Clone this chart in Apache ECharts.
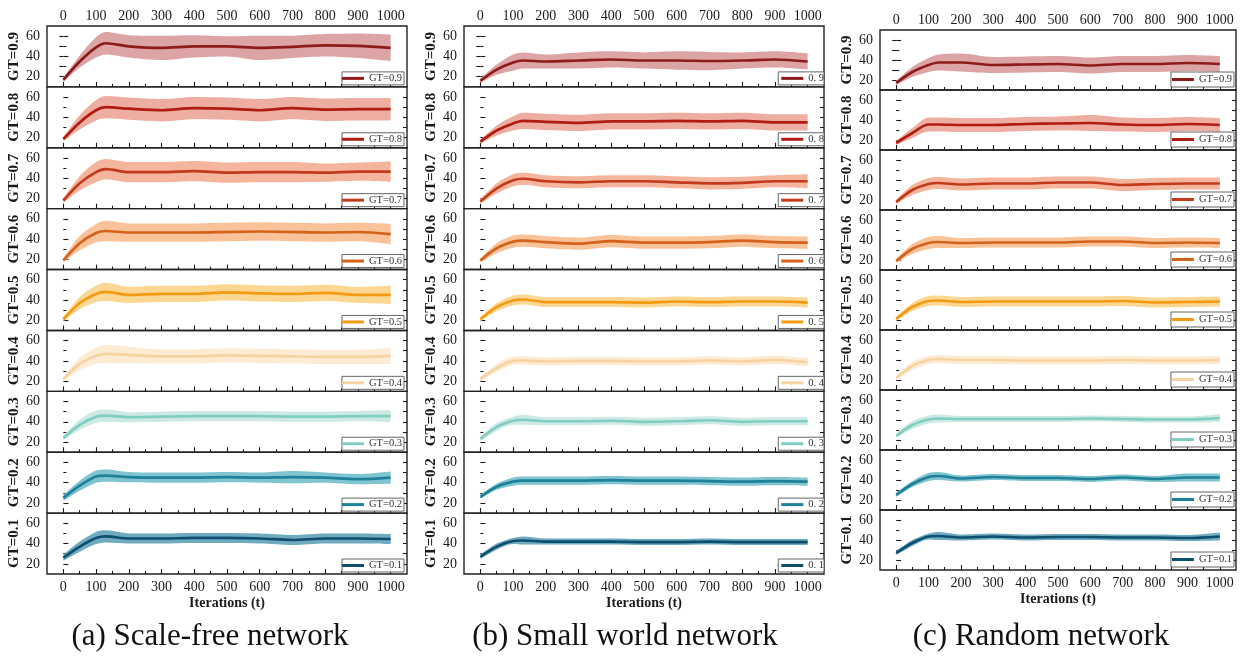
<!DOCTYPE html>
<html><head><meta charset="utf-8">
<script src="https://cdn.jsdelivr.net/npm/echarts@6/dist/echarts.min.js"></script>
<style>html,body{margin:0;padding:0;background:#fff}#c{width:1242px;height:656px}</style>
</head><body><div id="c"></div>
<script>
// ---------- data ----------
const X = [0, 50, 100, 130, 200, 300, 400, 500, 600, 700, 800, 900, 1000];
const GT_NAMES = ['GT=0.9','GT=0.8','GT=0.7','GT=0.6','GT=0.5','GT=0.4','GT=0.3','GT=0.2','GT=0.1'];
const LEGEND_B = ['0. 9','0. 8','0. 7','0. 6','0. 5','0. 4','0. 3','0. 2','0. 1'];
const X_MAJOR = [0,100,200,300,400,500,600,700,800,900,1000];
const X_MINOR = [50,150,250,350,450,550,650,750,850,950];
const Y_MAJOR = [20,40,60];
const Y_MINOR = [30,50];
const Y_RIGHT = [20,30,40,50,60];
const CAPTIONS = ['(a) Scale-free network','(b) Small world network','(c) Random network'];
const X_TITLE = 'Iterations (t)';

// (a) Scale-free network: mean and half-width of band, rows GT=0.9 ... GT=0.1
const A_MEAN = [
  [17,35,49,53,50,48.5,50,50,48.5,49.5,51,50.5,48.5],
  [18.5,35,47,50,48.5,47,49,48.5,47,49,47.5,48,48],
  [18,35,46,49,46,46,47,45.5,46,46,45.5,46.5,46.5],
  [19,36,46,48,46.5,46.5,46.5,47,47.5,47,46.5,47,45],
  [21,37,46,48,45,46,46,47.5,46.5,46,47,45,45],
  [22,37,45,47,46,44.5,44.5,45.5,45,44.5,44,44,45],
  [24,37,45,46,44.5,45,45.5,45.5,45.5,45,45,45.5,45.5],
  [25,37,46,47,45.5,45,45,45.5,45,45.5,45,43.5,45],
  [26,37,45.5,47,45,45,45.5,45.5,45,43.5,45,45,44.5]
];
const A_HALF = [
  [2,6,10,11,11,12,11,10,12,11,11,12,13],
  [2,7,10,11,11,11,11,11,11,11,11,11,11],
  [2,7,10,10,10,10,10,10,10,10,9,9,10],
  [2,7,9,10,9,9,9,9,9,9,9,9,10],
  [2,6,8,9,8,8,8,8,8,8,8,8,9],
  [2,6,8,9,8,7,7,7,7,7,7,7,8],
  [2,5,6,6,5,5,5,5,5,5,5,5,6],
  [3,5,6,6,5,5,5,5,5,6,5,5,6],
  [3,5,6,6,5,5,5,5,5,5,5,5,5]
];
// (b) Small world network
const B_MEAN = [
  [16,27,34,36,35,36,37,36,36,35.5,36,37,35],
  [16,27,34,36.5,35.5,34.5,36,36,36.5,36,36.5,35,35],
  [17,30,38,39.5,37,36,37,37,36,35,35.5,37,37],
  [19,31,37.5,38.5,37,35.5,38,36.5,36.5,37,38.5,37,36.5],
  [21,33,39.5,40.5,38,38,38,37.5,38.5,38,38.5,38.5,37.5],
  [22,33,40,40.5,39.5,40,40,39.5,39.5,40.5,39.5,41,38.5],
  [23,35,41,42,40.5,40.5,41,40,40.5,41.5,40,40.5,40.5],
  [26,36,41,42,42,42,42.5,42,42,41.5,41,41.5,41],
  [27,37,42.5,43,42,42,42,41.5,41.5,42,41.5,41.5,41.5]
];
const B_HALF = [
  [2,5,8,8,7,8,8,8,9,9,8,8,8],
  [2,5,7,8,8,8,8,8,8,8,8,8,8],
  [2,5,6,6,6,6,6,6,6,6,6,6,7],
  [2,5,6,6,6,6,6,6,6,6,6,6,6],
  [2,4,5,5,5,5,5,5,5,5,5,5,5],
  [2,4,4,4,4,4,4,4,4,4,4,4,4],
  [2,4,4,5,4,4,4,4,4,4,4,4,4],
  [2,3,4,4,4,4,4,4,4,4,4,4,4],
  [2,3,3,4,3,3,3,3,3,3,3,3,3]
];
// (c) Random network
const C_MEAN = [
  [17,28,35,37.5,37.5,35,35.5,36,34.5,36,36,37,36],
  [17,27,35.5,35.5,35,35,36,36.5,37,35.5,35,36,35],
  [18,30,36,37,35.5,36.5,36.5,37.5,37.5,35,36,36.5,36.5],
  [19,31,37,38,37,37.5,37.5,37.5,38.5,38.5,37,37.5,37],
  [21,33,39,39.5,38,38.5,38.5,38.5,38.5,39,37.5,38,38.5],
  [22,34,40,41,40,40,39.5,39.5,39.5,40,39.5,39.5,40],
  [24,35,40.5,41.5,41,41,41,41,41.5,41,40.5,40.5,42],
  [25,36,43,44,41.5,43,42,42,41,42.5,41,42.5,42.5],
  [27,37,43.5,44,42.5,43.5,42.5,43,43,42.5,42.5,42,43.5]
];
const C_HALF = [
  [2,5,7,8,9,8,8,8,8,8,8,8,8],
  [2,5,7,7,7,7,7,7,8,7,7,7,7],
  [2,5,6,6,6,6,6,6,6,6,6,6,6],
  [2,5,6,6,5,5,5,5,5,5,5,5,5],
  [2,4,5,5,5,5,5,5,5,5,5,5,5],
  [2,4,4,4,4,4,4,4,4,4,4,4,4],
  [2,4,4,4,3,3,3,3,3,3,3,3,4],
  [2,3,4,4,3,3,3,3,3,3,3,4,4],
  [2,3,3,4,3,3,3,3,3,3,3,3,4]
];

// ---------- styles ----------
const LINE_COLORS = ['#8e1b1b','#b01c12','#c23a1b','#d5621b','#f39a12','#f7d3a3','#80cdc1','#1f8099','#0e4f6f'];
const BAND_COLORS = ['#dca4a4','#eeada1','#f5b49c','#f9c298','#fcd693','#fdebd3','#cde9e3','#80c4d1','#70aac0'];
const SERIF = 'Liberation Serif';
const INK = '#1a1a1a';
const W = 1242, H = 656;

const COLS = [
  {key:'a', mean:A_MEAN, half:A_HALF, left:47, width:360, top:26, h:548/9, legend:GT_NAMES, legPad:[1,2,1,0], icon:22, legR:3, legB:2, capX:210},
  {key:'b', mean:B_MEAN, half:B_HALF, left:464, width:360, top:26, h:548/9, legend:LEGEND_B, legPad:[1,0,1,3], icon:22, legR:0, legB:2, capX:625},
  {key:'c', mean:C_MEAN, half:C_HALF, left:880, width:356, top:30, h:60, legend:GT_NAMES, legPad:[2,2,2,1], icon:22, legR:2, legB:3, capX:1041}
];

const grid = [], xAxis = [], yAxis = [], series = [], legend = [], title = [];
const tickLine = {color: INK, width: 1.1};
const plain = v => String(v);

COLS.forEach((col, ci) => {
  title.push({
    text: CAPTIONS[ci], left: col.capX, top: 621, textAlign: 'center', padding: 0,
    textStyle: {fontFamily: SERIF, fontSize: 31, fontWeight: 'normal', color: '#111'}
  });
  for (let r = 0; r < 9; r++) {
    const top = col.top + r * col.h;
    const gMain = grid.length;
    grid.push({left: col.left, top: top, width: col.width, height: col.h, show: true,
      borderColor: '#222', borderWidth: 1.4, backgroundColor: 'transparent', containLabel: false});
    const gOver = grid.length;
    grid.push({left: col.left, top: top, width: col.width, height: col.h, show: false, containLabel: false});

    const last = r === 8;
    const xMain = xAxis.length;
    xAxis.push({
      gridIndex: gMain, type: 'value', min: -50, max: 1050, position: 'bottom',
      axisLine: {show: false}, splitLine: {show: false},
      axisTick: {show: true, inside: true, length: 5, customValues: X_MAJOR, lineStyle: tickLine},
      axisLabel: {show: last, customValues: X_MAJOR, formatter: plain, margin: last ? 6 : 0, fontFamily: SERIF, fontSize: 14, color: INK},
      name: last ? X_TITLE : '', nameLocation: 'middle', nameGap: 22,
      nameTextStyle: {fontFamily: SERIF, fontSize: 14, fontWeight: 'bold', color: INK}
    });
    if (r === 0) {
      xAxis.push({
        gridIndex: gMain, type: 'value', min: -50, max: 1050, position: 'top',
        axisLine: {show: false}, splitLine: {show: false}, axisTick: {show: false},
        axisLabel: {show: true, customValues: X_MAJOR, formatter: plain, margin: 3, fontFamily: SERIF, fontSize: 14, color: INK}
      });
    }
    xAxis.push({
      gridIndex: gOver, type: 'value', min: -50, max: 1050, position: 'bottom',
      axisLine: {show: false}, splitLine: {show: false},
      axisTick: {show: true, inside: true, length: 3, customValues: X_MINOR, lineStyle: tickLine},
      axisLabel: {show: false}
    });

    const yMain = yAxis.length;
    yAxis.push({
      gridIndex: gMain, type: 'value', min: 10, max: 70, position: 'left',
      axisLine: {show: false}, splitLine: {show: false},
      axisTick: {show: true, inside: true, length: 5, customValues: Y_MAJOR, lineStyle: tickLine},
      axisLabel: {show: true, customValues: Y_MAJOR, margin: 7, fontFamily: SERIF, fontSize: 14, color: INK},
      name: GT_NAMES[r], nameLocation: 'middle', nameGap: 25,
      nameTextStyle: {fontFamily: SERIF, fontSize: 15, fontWeight: 'bold', color: INK}
    });
    yAxis.push({
      gridIndex: gMain, type: 'value', min: 10, max: 70, position: 'right',
      axisLine: {show: false}, splitLine: {show: false},
      axisTick: {show: true, inside: true, length: 4, customValues: Y_RIGHT, lineStyle: tickLine},
      axisLabel: {show: false}
    });
    yAxis.push({
      gridIndex: gOver, type: 'value', min: 10, max: 70, position: 'left',
      axisLine: {show: false}, splitLine: {show: false},
      axisTick: {show: true, inside: true, length: 3, customValues: Y_MINOR, lineStyle: tickLine},
      axisLabel: {show: false}
    });

    const mean = col.mean[r], half = col.half[r];
    const stack = col.key + 'band' + r;
    const common = {type: 'line', xAxisIndex: xMain, yAxisIndex: yMain, symbol: 'none', showSymbol: false,
      smooth: 0.3, silent: true, animation: false};
    // band: values stored as [y, x] so the stacked dimension is y
    series.push(Object.assign({}, common, {
      name: col.key + 'lo' + r, stack: stack, z: 1, encode: {x: 1, y: 0},
      lineStyle: {opacity: 0, width: 0}, data: X.map((x, i) => [mean[i] - half[i], x])
    }));
    series.push(Object.assign({}, common, {
      name: col.key + 'bw' + r, stack: stack, z: 1, encode: {x: 1, y: 0},
      lineStyle: {opacity: 0, width: 0}, areaStyle: {color: BAND_COLORS[r], opacity: 1},
      data: X.map((x, i) => [2 * half[i], x])
    }));
    const sname = col.key + '|' + r;
    series.push(Object.assign({}, common, {
      name: sname, z: 3,
      lineStyle: {color: LINE_COLORS[r], width: 2.7}, itemStyle: {color: LINE_COLORS[r]},
      data: X.map((x, i) => [x, mean[i]])
    }));
    const label = col.legend[r];
    legend.push({
      data: [{name: sname, icon: 'rect', itemStyle: {color: LINE_COLORS[r]}}],
      selectedMode: false, orient: 'horizontal',
      right: W - (col.left + col.width) + col.legR,
      bottom: H - (top + col.h) + col.legB,
      itemWidth: col.icon, itemHeight: 3, itemGap: 0, padding: col.legPad,
      borderColor: '#555', borderWidth: 0.9, backgroundColor: '#fff', borderRadius: 0,
      textStyle: {fontFamily: SERIF, fontSize: 10.5, color: '#333', lineHeight: 11},
      formatter: () => label
    });
  }
});

const chart = echarts.init(document.getElementById('c'), null, {renderer: 'canvas'});
chart.setOption({animation: false, backgroundColor: '#fff', title, grid, xAxis, yAxis, series, legend});
</script></body></html>
